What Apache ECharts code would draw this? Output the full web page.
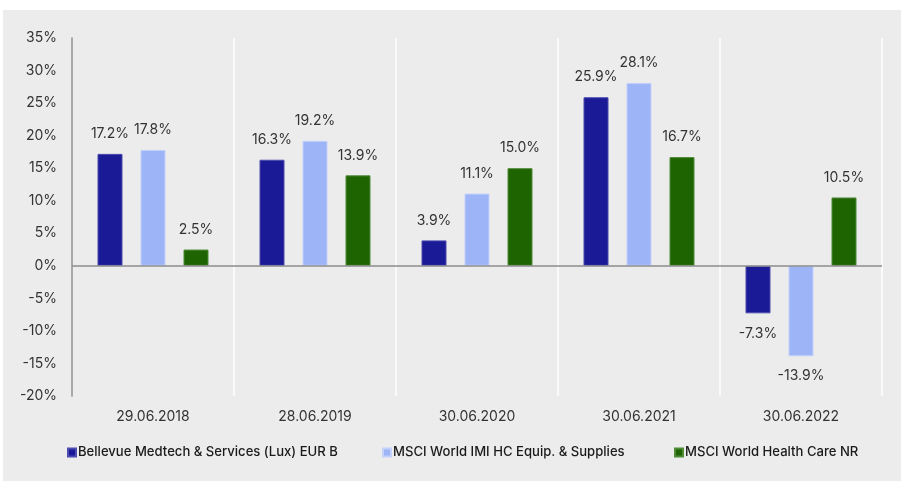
<!DOCTYPE html>
<html>
<head>
<meta charset="utf-8">
<script src="https://cdn.jsdelivr.net/npm/echarts@6/dist/echarts.min.js"></script>
<style>
  html, body { margin: 0; padding: 0; background: #fff; }
  #chart { position: absolute; left: 3px; top: 10px; width: 898px; height: 471px; background: #ececec; }
</style>
</head>
<body>
<div id="chart"></div>
<script>
// categories and values (percent)
const categories = ['29.06.2018', '28.06.2019', '30.06.2020', '30.06.2021', '30.06.2022']
const seriesNames = [
  'Bellevue Medtech & Services (Lux) EUR B',
  'MSCI World IMI HC Equip. & Supplies',
  'MSCI World Health Care NR'
]
const fundValues = [17.2, 16.3, 3.9, 25.9, -7.3]
const equipValues = [17.8, 19.2, 11.1, 28.1, -13.9]
const healthValues = [2.5, 13.9, 15.0, 16.7, 10.5]

const colors = ['#1a1a96', '#9db4f7', '#1e6400']
const borders = ['#4b4bb0', '#c3d1fb', '#4f8a36']
// left offset of each legend entry
const legendLeft = [64, 379, 671]

const chart = echarts.init(document.getElementById('chart'))

// label above for positive, below for negative
function makeData(values) {
  return values.map(v => ({
    value: v,
    label: { position: v < 0 ? 'bottom' : 'top' }
  }))
}

function makeSeries(name, values, i) {
  const s = {
    name: name,
    type: 'bar',
    data: makeData(values),
    barWidth: 25,
    barGap: '72%',
    itemStyle: { color: colors[i], borderColor: borders[i], borderWidth: 1 },
    label: {
      show: true,
      distance: 13,
      color: '#333',
      fontSize: 14,
      fontFamily: 'Inter',
      formatter: p => p.value.toFixed(1) + '%'
    }
  }
  if (i === 0) {
    s.markLine = {
      silent: true,
      symbol: 'none',
      label: { show: false },
      lineStyle: { color: '#8c8c8c', width: 1.5, type: 'solid' },
      data: [{ yAxis: 0 }]
    }
  }
  return s
}

const option = {
  animation: false,
  textStyle: { fontFamily: 'Inter' },
  grid: { left: 69, right: 19, top: 28, bottom: 85 },
  legend: seriesNames.map((n, i) => ({
    bottom: 22,
    left: legendLeft[i],
    padding: 0,
    itemWidth: 8,
    itemHeight: 8,
    icon: 'rect',
    textStyle: { color: '#1a1a1a', fontSize: 13.1, fontWeight: 500, fontFamily: 'Inter', padding: [0, 0, 0, -3] },
    data: [n]
  })),
  xAxis: {
    type: 'category',
    data: categories,
    axisLine: { show: false, onZero: false },
    axisTick: { show: false },
    axisLabel: { color: '#333', fontSize: 14, margin: 14 },
    splitLine: { show: true, lineStyle: { color: '#ffffff', width: 1.5 } }
  },
  yAxis: {
    type: 'value',
    min: -20,
    max: 35,
    interval: 5,
    axisLine: { show: true, lineStyle: { color: '#8c8c8c', width: 1.5 } },
    axisTick: { show: false },
    splitLine: { show: false },
    axisLabel: { color: '#333', fontSize: 14, margin: 15, formatter: '{value}%' }
  },
  series: [
    makeSeries(seriesNames[0], fundValues, 0),
    makeSeries(seriesNames[1], equipValues, 1),
    makeSeries(seriesNames[2], healthValues, 2)
  ]
}

chart.setOption(option)
</script>
</body>
</html>
